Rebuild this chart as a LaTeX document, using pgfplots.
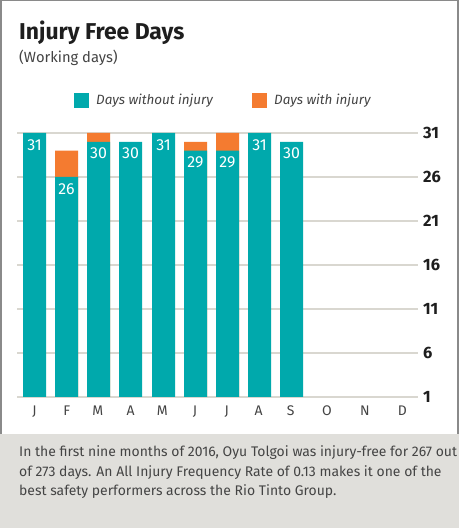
\documentclass[border=0pt]{standalone}
\usepackage{pgfplots}
\pgfplotsset{compat=1.18}
\usepackage{fontspec}
\setmainfont{Fira Sans}
\definecolor{tealbar}{HTML}{00A9AC}
\definecolor{orangebar}{HTML}{F47B30}
\definecolor{gridgray}{HTML}{D9D7D0}
\definecolor{footgray}{HTML}{E0DFDB}
\definecolor{framegray}{HTML}{8A8A8A}
\definecolor{txtdark}{HTML}{1E1E1E}
\definecolor{txtgray}{HTML}{444444}
\begin{document}
\begin{tikzpicture}[x=1bp,y=1bp]
\useasboundingbox (0,0) rectangle (459,528);
\fill[white] (0,0) rectangle (459,528);
\fill[footgray] (0,0) rectangle (459,94);
\draw[framegray, line width=1.5bp] (1,94) -- (1,527.25) -- (458,527.25) -- (458,94);
\node[anchor=base west, inner sep=0pt, text=txtdark] at (19,488) {\fontsize{23}{23}\selectfont\bfseries Injury Free Days};
\node[anchor=base west, inner sep=0pt, text=txtgray] at (19,465) {\fontsize{14.8}{14.8}\selectfont (Working days)};
\fill[tealbar] (74,420) rectangle (89,435);
\node[anchor=west, inner sep=0pt, text=txtgray] at (96,427) {\fontsize{13.5}{13.5}\selectfont\itshape Days without injury};
\fill[orangebar] (252,420) rectangle (267,435);
\node[anchor=west, inner sep=0pt, text=txtgray] at (274,427) {\fontsize{13.5}{13.5}\selectfont\itshape Days with injury};
\begin{axis}[
  at={(17bp,131bp)}, anchor=south west,
  scale only axis, width=401bp, height=264bp,
  xmin=17, xmax=418, ymin=1, ymax=31,
  axis line style={draw=none},
  major tick length=0pt,
  ytick={1,6,11,16,21,26,31},
  ymajorgrids,
  grid style={color=gridgray, line width=1.2bp},
  yticklabel pos=right,
  /pgf/number format/assume math mode=true,
  yticklabel style={anchor=west, inner sep=0pt, xshift=5bp, text=txtdark, font=\fontsize{16.5}{16.5}\selectfont\bfseries},
  xtick={34.5,66.7,97.7,130.7,162.3,195,226.7,258.7,290.7,327,365,402.3},
  xticklabels={J,F,M,A,M,J,J,A,S,O,N,D},
  xticklabel style={anchor=base, inner sep=0pt, yshift=-19bp, text=txtgray, font=\fontsize{14}{14}\selectfont},
]
\addplot[ybar, bar width=23, bar shift=0, fill=orangebar, draw=none]
  coordinates {(66.5,29) (98.5,31) (195.5,30) (227.5,31)};
\addplot[ybar, bar width=23, bar shift=0, fill=tealbar, draw=none,
  nodes near coords,
  nodes near coords style={anchor=north, text=white, inner sep=0pt, yshift=-6bp, font=\fontsize{16}{16}\selectfont}]
  coordinates {(34.5,31) (66.5,26) (98.5,30) (130.5,30) (163.5,31) (195.5,29) (227.5,29) (259.5,31) (291.5,30)};
\end{axis}
\node[anchor=base west, inner sep=0pt, text=txtgray] at (19,71) {\fontsize{14}{14}\selectfont In the first nine months of 2016, Oyu Tolgoi was injury-free for 267 out};
\node[anchor=base west, inner sep=0pt, text=txtgray] at (19,51.5) {\fontsize{14}{14}\selectfont of 273 days. An All Injury Frequency Rate of 0.13 makes it one of the};
\node[anchor=base west, inner sep=0pt, text=txtgray] at (19,32) {\fontsize{14}{14}\selectfont best safety performers across the Rio Tinto Group.};
\end{tikzpicture}
\end{document}
